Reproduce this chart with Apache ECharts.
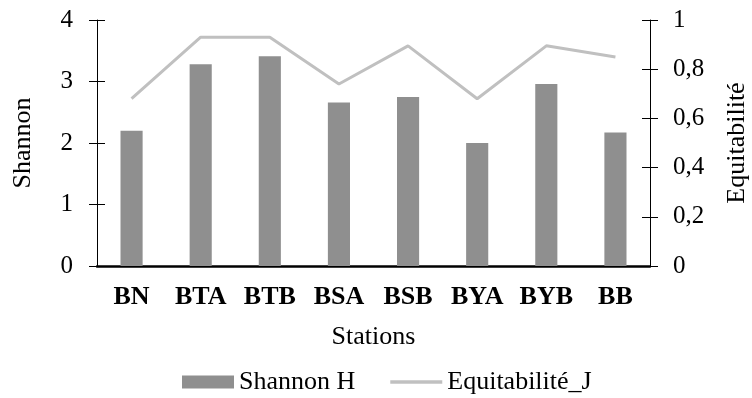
<!DOCTYPE html>
<html><head><meta charset="utf-8">
<script src="https://cdn.jsdelivr.net/npm/echarts@6/dist/echarts.min.js"></script>
<style>html,body{margin:0;padding:0;background:#fff}#c{width:752px;height:398px}</style>
</head><body><div id="c"></div>
<script>
const stations = ['BN','BTA','BTB','BSA','BSB','BYA','BYB','BB'];
const shannonH = [2.2, 3.28, 3.41, 2.66, 2.75, 2.0, 2.96, 2.17];
const equitJ = [0.68, 0.93, 0.93, 0.74, 0.895, 0.68, 0.895, 0.85];
const leftTicks = [0,1,2,3,4];
const rightTicks = [0,0.2,0.4,0.6,0.8,1];

const F = "'Liberation Serif', 'Times New Roman', serif";
const chart = echarts.init(document.getElementById('c'));
const tickAxis = (min,max,interval,pos,extra)=>Object.assign({type:'value',min,max,interval,position:pos,
  axisLine:{show:true,lineStyle:{color:'#000',width:1}},
  axisTick:{show:true,length:8,lineStyle:{color:'#000'}},
  splitLine:{show:false}},extra);
chart.setOption({
  animation:false,
  grid:{left:97,right:102,top:20,bottom:132,containLabel:false,outerBoundsMode:'none'},
  legend:{top:369,left:182,padding:0,itemGap:35,itemWidth:52,itemHeight:13,symbolKeepAspect:false,
    textStyle:{fontFamily:F,fontSize:26,color:'#000'},
    data:[{name:'Shannon H',icon:'rect'},
          {name:'Equitabilité_J',icon:'path://M0,0 M0,4.8 H52 V8.2 H0 Z M52,13'}]},
  xAxis:{type:'category',data:stations,
    axisLine:{lineStyle:{color:'#000',width:2.5}},axisTick:{show:false},
    axisLabel:{fontFamily:F,fontSize:26,fontWeight:'bold',color:'#000',margin:18,interval:0,hideOverlap:false},
    name:'Stations',nameLocation:'middle',nameGap:58,
    nameTextStyle:{fontFamily:F,fontSize:26,color:'#000'}},
  yAxis:[
    tickAxis(0,4,1,'left',{
     axisLabel:{fontFamily:F,fontSize:25,color:'#000',margin:24},
     name:'Shannon',nameLocation:'middle',nameGap:61,nameRotate:90,
     nameTextStyle:{fontFamily:F,fontSize:26,color:'#000'}}),
    tickAxis(0,1,0.2,'right',{
     axisLabel:{fontFamily:F,fontSize:25,color:'#000',margin:23,
       formatter:v=>String(+v.toFixed(1)).replace('.',',')},
     name:'Equitabilité',nameLocation:'middle',nameGap:74,nameRotate:90,
     nameTextStyle:{fontFamily:F,fontSize:26,color:'#000'}}),
    tickAxis(0,1,0.2,'right',{axisLine:{show:false},
     axisTick:{show:true,inside:true,length:8,lineStyle:{color:'#000'}},axisLabel:{show:false}}),
    tickAxis(0,4,1,'left',{axisLine:{show:false},
     axisTick:{show:true,inside:true,length:8,lineStyle:{color:'#000'}},axisLabel:{show:false}})
  ],
  series:[
    {name:'Shannon H',type:'bar',data:shannonH,yAxisIndex:0,barWidth:'32%',
     itemStyle:{color:'#8f8f8f'}},
    {name:'Equitabilité_J',type:'line',data:equitJ,yAxisIndex:1,symbol:'none',
     lineStyle:{color:'#c0c0c0',width:3},itemStyle:{color:'#c0c0c0'}}
  ]
});
</script></body></html>
